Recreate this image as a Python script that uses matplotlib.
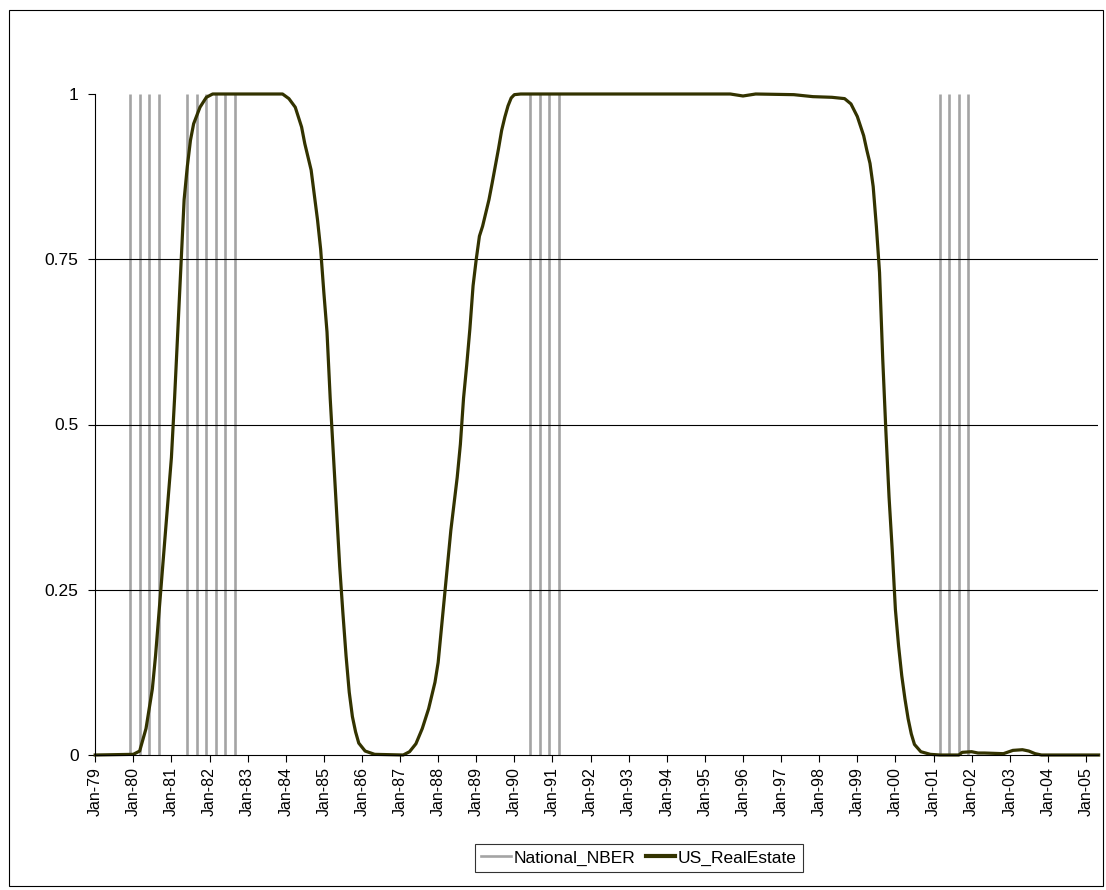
import matplotlib
matplotlib.use("Agg")
import matplotlib.pyplot as plt
from matplotlib import font_manager
from matplotlib.lines import Line2D
from matplotlib.patches import Rectangle

plt.rcParams["font.family"] = ["Liberation Sans", "DejaVu Sans"]

# Months counted from Jan-79 (0 = Jan-79)
tick_labels = ["Jan-%02d" % (y % 100) for y in range(1979, 2006)]
tick_months = [12 * i for i in range(len(tick_labels))]

# NBER recession quarters (month offsets)
nber_months = [11, 14, 17, 20,
               29, 32, 35, 38, 41, 44,
               137, 140, 143, 146,
               266, 269, 272, 275]

# US real estate regime probability
re_months = [0, 12, 14, 16, 17, 18, 19, 20, 21, 22, 23, 24, 25, 26, 27, 28, 29,
             30, 31, 33, 35, 37,
             59, 61, 63, 65, 66, 68, 70, 71, 72, 73, 74, 75, 76, 77, 78, 79,
             80, 81, 82, 83, 85, 88,
             97, 99, 101, 103, 105, 107, 108, 109, 110, 111, 112, 113, 114,
             115, 116, 117, 118, 119, 120, 121, 122, 124, 125, 127, 128, 129,
             130, 131, 132, 134,
             200, 204, 208, 220, 226, 232, 236, 238, 240, 242, 243, 244, 245,
             246, 247, 248, 249, 250, 251, 252, 253, 254, 255, 256, 257, 258,
             260, 263, 266, 272, 273, 276, 278, 280, 286, 289, 292, 294, 296,
             298, 316]
re_values = [0.0, 0.001, 0.006, 0.04, 0.07, 0.10, 0.15, 0.21, 0.27, 0.33, 0.39,
             0.45, 0.54, 0.64, 0.74, 0.84, 0.89, 0.93, 0.955, 0.98, 0.995, 1.0,
             1.0, 0.993, 0.98, 0.95, 0.925, 0.885, 0.81, 0.765, 0.70, 0.64,
             0.54, 0.455, 0.37, 0.285, 0.215, 0.15, 0.095, 0.058, 0.035, 0.018,
             0.006, 0.001,
             0.0, 0.005, 0.017, 0.04, 0.07, 0.11, 0.14, 0.19, 0.24, 0.29, 0.34,
             0.38, 0.42, 0.47, 0.54, 0.59, 0.645, 0.71, 0.75, 0.785, 0.80,
             0.84, 0.865, 0.917, 0.945, 0.965, 0.982, 0.994, 0.999, 1.0,
             1.0, 0.997, 1.0, 0.999, 0.996, 0.995, 0.993, 0.985, 0.966, 0.937,
             0.915, 0.895, 0.86, 0.80, 0.73, 0.60, 0.49, 0.39, 0.31, 0.22,
             0.165, 0.12, 0.085, 0.055, 0.032, 0.016, 0.005, 0.001, 0.0, 0.0,
             0.004, 0.005, 0.003, 0.003, 0.002, 0.007, 0.008, 0.006, 0.002,
             0.0, 0.0]

y_ticks = [0, 0.25, 0.5, 0.75, 1]
y_tick_labels = ["0", "0.25", "0.5", "0.75", "1"]

# narrow face for the rotated month labels, when one is installed
installed = {f.name for f in font_manager.fontManager.ttflist}
narrow = [n for n in ("Liberation Sans Narrow", "Arial Narrow", "DejaVu Sans Condensed")
          if n in installed]
xlabel_family = (narrow[:1] + ["Liberation Sans"]) if narrow else ["Liberation Sans"]
xlabel_size = 12.5 if narrow else 11.5

W, H = 1106, 890
fig = plt.figure(figsize=(W / 100, H / 100), dpi=100)
fig.patch.set_facecolor("white")

# outer chart frame
fig.add_artist(Rectangle((9 / W, 1 - 886 / H), 1094 / W, 876 / H,
                         transform=fig.transFigure, fill=False,
                         edgecolor="black", linewidth=0.8))

left, right, top, bottom = 95.2, 1098, 94, 755
ax = fig.add_axes([left / W, 1 - bottom / H, (right - left) / W, (bottom - top) / H])

nber_color = "#a4a4a4"
re_color = "#333300"

ax.vlines(nber_months, 0, 1, colors=nber_color, linewidth=1.9, zorder=2)
for yv in y_ticks[1:-1]:
    ax.axhline(yv, color="black", linewidth=0.8, zorder=3)
ax.plot(re_months, re_values, color=re_color, linewidth=2.3,
        solid_joinstyle="round", zorder=4, clip_on=False)

ax.set_xlim(0, 315.8)
ax.set_ylim(0, 1)
ax.set_xticks(tick_months)
ax.set_xticklabels(tick_labels, rotation=90, fontsize=xlabel_size,
                   family=xlabel_family)
ax.set_yticks(y_ticks)
ax.set_yticklabels(y_tick_labels, fontsize=12.5)
ax.tick_params(axis="both", direction="out", length=5, width=0.8, color="black")
ax.tick_params(axis="x", pad=3.5)
ax.tick_params(axis="y", pad=7)

for s in ["top", "right"]:
    ax.spines[s].set_visible(False)
for s in ["left", "bottom"]:
    ax.spines[s].set_linewidth(0.8)
    ax.spines[s].set_zorder(5)

handles = [Line2D([], [], color=nber_color, linewidth=1.9),
           Line2D([], [], color=re_color, linewidth=3)]
leg = fig.legend(handles, ["National_NBER", "US_RealEstate"],
                 loc="center", bbox_to_anchor=(639 / W, 1 - 858 / H),
                 ncol=2, fontsize=12.5, frameon=True, fancybox=False,
                 edgecolor="black", handlelength=1.7, handletextpad=0.15,
                 columnspacing=0.6, borderpad=0.35, borderaxespad=0)
leg.get_frame().set_linewidth(0.8)

fig.savefig("out.png", dpi=100, facecolor="white")
